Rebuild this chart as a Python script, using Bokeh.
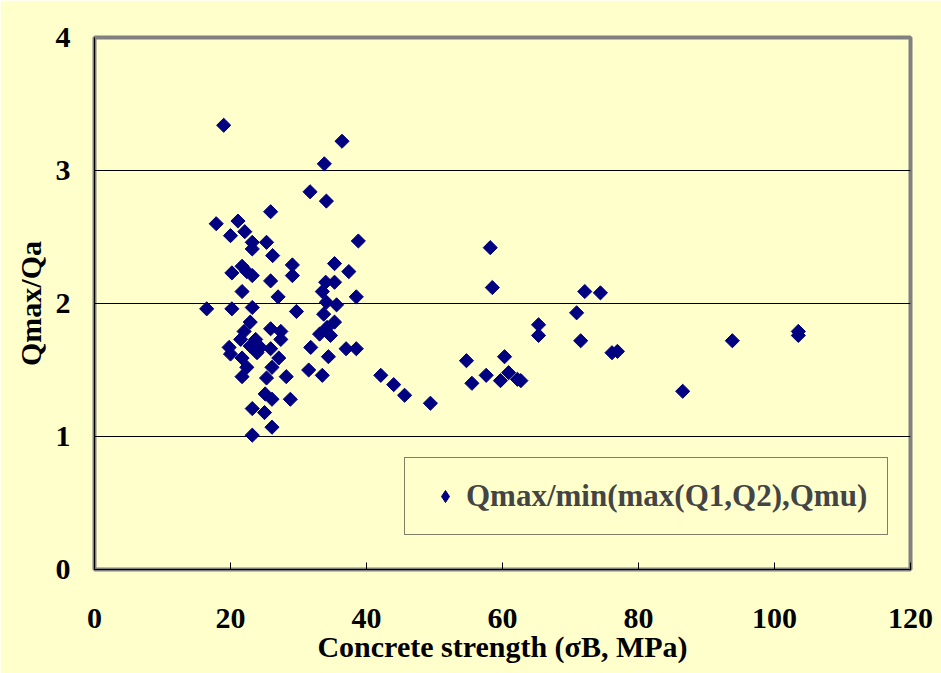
from bokeh.plotting import figure
from bokeh.models import ColumnDataSource, FixedTicker, Legend, LegendItem
from bokeh.embed import file_html
from bokeh.resources import INLINE

# Concrete strength (MPa)
strength = [19.0, 36.4, 33.8, 31.7, 34.1, 25.9, 17.9, 21.1, 20.0, 22.1,
            23.2, 25.3, 23.2, 38.8, 26.2, 29.1, 29.1, 35.3, 37.4, 20.2,
            21.7, 22.4, 23.2, 25.9, 21.7, 27.0, 34.0, 35.3, 33.5, 38.5,
            16.5, 20.2, 23.2, 29.7, 34.1, 35.6, 33.7, 22.9, 35.3, 25.9,
            27.4, 22.0, 34.2, 33.1, 34.7, 21.5, 23.7, 27.4, 19.8, 22.9,
            24.4, 25.9, 23.9, 20.0, 31.8, 37.0, 38.5, 27.1, 21.7, 34.4,
            26.1, 22.4, 21.7, 31.5, 33.5, 28.2, 25.3, 42.1, 25.1, 26.1,
            28.8, 23.2, 25.0, 26.1, 23.2,
            58.2, 58.5, 72.1, 74.4, 70.9, 65.3, 65.3, 71.5, 76.1, 76.9,
            44.0, 45.6, 49.4, 54.7, 55.5, 57.6, 60.3, 60.9, 59.7, 62.2,
            62.7, 93.8, 103.5, 103.5, 86.5]
# Qmax/Qa ratio
ratio = [3.34, 3.22, 3.05, 2.84, 2.77, 2.69, 2.60, 2.62, 2.51, 2.54,
         2.46, 2.46, 2.41, 2.47, 2.36, 2.29, 2.21, 2.30, 2.24, 2.23,
         2.28, 2.24, 2.21, 2.17, 2.09, 2.05, 2.16, 2.16, 2.09, 2.05,
         1.96, 1.96, 1.97, 1.94, 2.01, 1.99, 1.92, 1.86, 1.86, 1.81,
         1.79, 1.79, 1.82, 1.77, 1.76, 1.73, 1.73, 1.73, 1.67, 1.68,
         1.67, 1.66, 1.63, 1.62, 1.67, 1.66, 1.66, 1.59, 1.59, 1.60,
         1.52, 1.52, 1.45, 1.50, 1.46, 1.45, 1.44, 1.46, 1.32, 1.28,
         1.28, 1.21, 1.18, 1.07, 1.01,
         2.42, 2.12, 2.09, 2.08, 1.93, 1.84, 1.76, 1.72, 1.63, 1.64,
         1.39, 1.31, 1.25, 1.57, 1.40, 1.46, 1.60, 1.48, 1.42, 1.43,
         1.42, 1.72, 1.79, 1.76, 1.34]

x_ticks = [0, 20, 40, 60, 80, 100, 120]
y_ticks = [0, 1, 2, 3, 4]
series_name = "Qmax/min(max(Q1,Q2),Qmu)"

BG = "#FFFFCC"
FONT = "Liberation Serif"

p = figure(width=941, height=673, output_backend="svg", toolbar_location=None,
           x_range=(0, 120), y_range=(0, 4),
           min_border_left=94, min_border_right=31,
           min_border_top=37, min_border_bottom=104)
p.background_fill_color = BG
p.border_fill_color = BG
p.outline_line_color = "#808080"
p.outline_line_width = 4

src = ColumnDataSource(dict(x=strength, y=ratio))
p.scatter("x", "y", source=src, marker="square", size=10, angle=0.785398,
          fill_color="#000080", line_color="#000080")
# legend swatch renderer (point lies outside the visible range)
leg_r = p.scatter(x=[-100], y=[-100], marker="diamond", size=12,
                  fill_color="#000080", line_color="#000080")

# grid
p.xgrid.grid_line_color = None
p.ygrid.grid_line_color = "black"
p.ygrid.grid_line_width = 1
p.ygrid.ticker = FixedTicker(ticks=y_ticks)

# axes
p.xaxis.ticker = FixedTicker(ticks=x_ticks)
p.yaxis.ticker = FixedTicker(ticks=y_ticks)
for ax in (p.xaxis[0], p.yaxis[0]):
    ax.axis_line_color = "black"
    ax.major_label_text_font = FONT
    ax.major_label_text_font_style = "bold"
    ax.major_label_text_font_size = "30px"
    ax.major_label_text_color = "black"
    ax.axis_label_text_font = FONT
    ax.axis_label_text_font_style = "bold"
    ax.axis_label_text_font_size = "30px"
    ax.axis_label_text_color = "black"
    ax.minor_tick_line_color = None
p.xaxis.major_tick_in = 7
p.xaxis.major_tick_out = 0
p.xaxis.major_tick_line_color = "black"
p.yaxis.major_tick_in = 0
p.yaxis.major_tick_out = 0
p.xaxis.major_label_standoff = 39
p.yaxis.major_label_standoff = 24
p.xaxis.axis_label = "Concrete strength (σB, MPa)"
p.yaxis.axis_label = "Qmax/Qa"
p.xaxis.axis_label_standoff = -1
p.yaxis.axis_label_standoff = 6

legend = Legend(items=[LegendItem(label=series_name, renderers=[leg_r])],
                location=(310, 34))
legend.border_line_color = "black"
legend.border_line_width = 1
legend.background_fill_color = BG
legend.background_fill_alpha = 1
legend.label_text_font = FONT
legend.label_text_font_style = "bold"
legend.label_text_font_size = "31px"
legend.padding = 20
legend.margin = 0
legend.glyph_width = 40
legend.glyph_height = 30
legend.label_standoff = 1
p.add_layout(legend, "center")

open("out.html", "w").write(file_html(p, INLINE))
